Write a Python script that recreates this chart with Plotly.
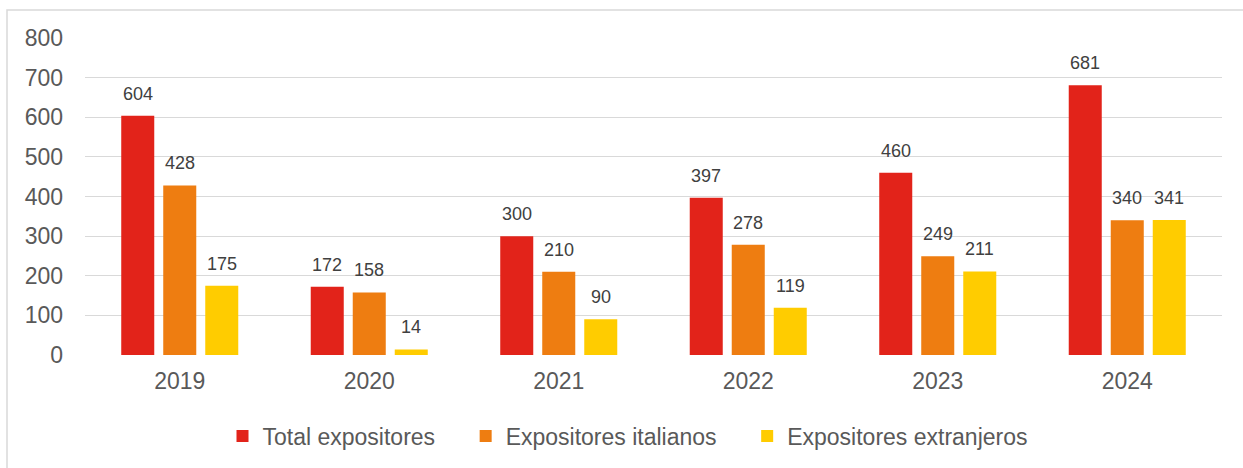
import plotly.graph_objects as go

years = ["2019", "2020", "2021", "2022", "2023", "2024"]
series_names = ["Total expositores", "Expositores italianos", "Expositores extranjeros"]
total = [604, 172, 300, 397, 460, 681]
italianos = [428, 158, 210, 278, 249, 340]
extranjeros = [175, 14, 90, 119, 211, 341]
colors = ["#E2231A", "#EE7D11", "#FFCC00"]
y_ticks = [0, 100, 200, 300, 400, 500, 600, 700, 800]

W, H = 1243, 468
ML, MR, MT, MB = 85, 21, 38, 112
PW = W - ML - MR
PH = H - MT - MB

FONT = "Liberation Sans, Arial, sans-serif"
TSIZE = 23
fig = go.Figure()
all_vals = [total, italianos, extranjeros]
legend_names = [series_names[0] + "\u00a0" * 4, series_names[1] + "\u00a0" * 4, series_names[2]]
for name, vals, col in zip(legend_names, all_vals, colors):
    fig.add_trace(go.Bar(
        x=years, y=vals, name=name,
        marker=dict(color=col, line=dict(width=0)),
        hoverinfo="skip",
    ))

# data labels as annotations above bars
cat_w = PW / len(years)
bargap = 0.335
slot = cat_w * (1 - bargap) / 3
for i, vals in enumerate(all_vals):
    for j, v in enumerate(vals):
        fig.add_annotation(
            x=j, y=v, xref="x", yref="y", text=str(v), showarrow=False,
            xshift=(i - 1) * slot, yshift=22, yanchor="middle",
            font=dict(family=FONT, size=18, color="#404040"),
        )

fig.add_shape(
    type="rect", xref="paper", yref="paper",
    x0=(7 - ML) / PW, x1=(W + 10 - ML) / PW,
    y0=(MT + PH - (H + 10)) / PH, y1=(MT + PH - 10) / PH,
    line=dict(color="#D9D9D9", width=1.5), fillcolor="rgba(0,0,0,0)", layer="below",
)

fig.update_layout(
    width=W, height=H,
    margin=dict(l=ML, r=MR, t=MT, b=MB, pad=0),
    paper_bgcolor="white", plot_bgcolor="white",
    barmode="group", bargap=bargap, bargroupgap=0.214,
    font=dict(family=FONT, size=TSIZE, color="#595959"),
    showlegend=True,
    legend=dict(
        orientation="h", x=(628 - ML) / PW, xanchor="center",
        y=(MT + PH - 436) / PH, yanchor="middle",
        font=dict(family=FONT, size=TSIZE, color="#595959"),
        itemwidth=30, bgcolor="rgba(0,0,0,0)",
        itemclick=False, itemdoubleclick=False,
    ),
    xaxis=dict(
        type="category", range=[-0.5, 5.5], showgrid=False, showline=False, zeroline=False,
        ticks="", ticklabelstandoff=10,
        tickfont=dict(family=FONT, size=TSIZE, color="#595959"),
    ),
    yaxis=dict(
        range=[0, 800], tickvals=y_ticks, showgrid=True, gridcolor="#D9D9D9", gridwidth=1,
        zeroline=False, showline=False, ticks="", ticklabelstandoff=21,
        tickfont=dict(family=FONT, size=TSIZE, color="#595959"),
    ),
)

fig.write_html("out.html")
